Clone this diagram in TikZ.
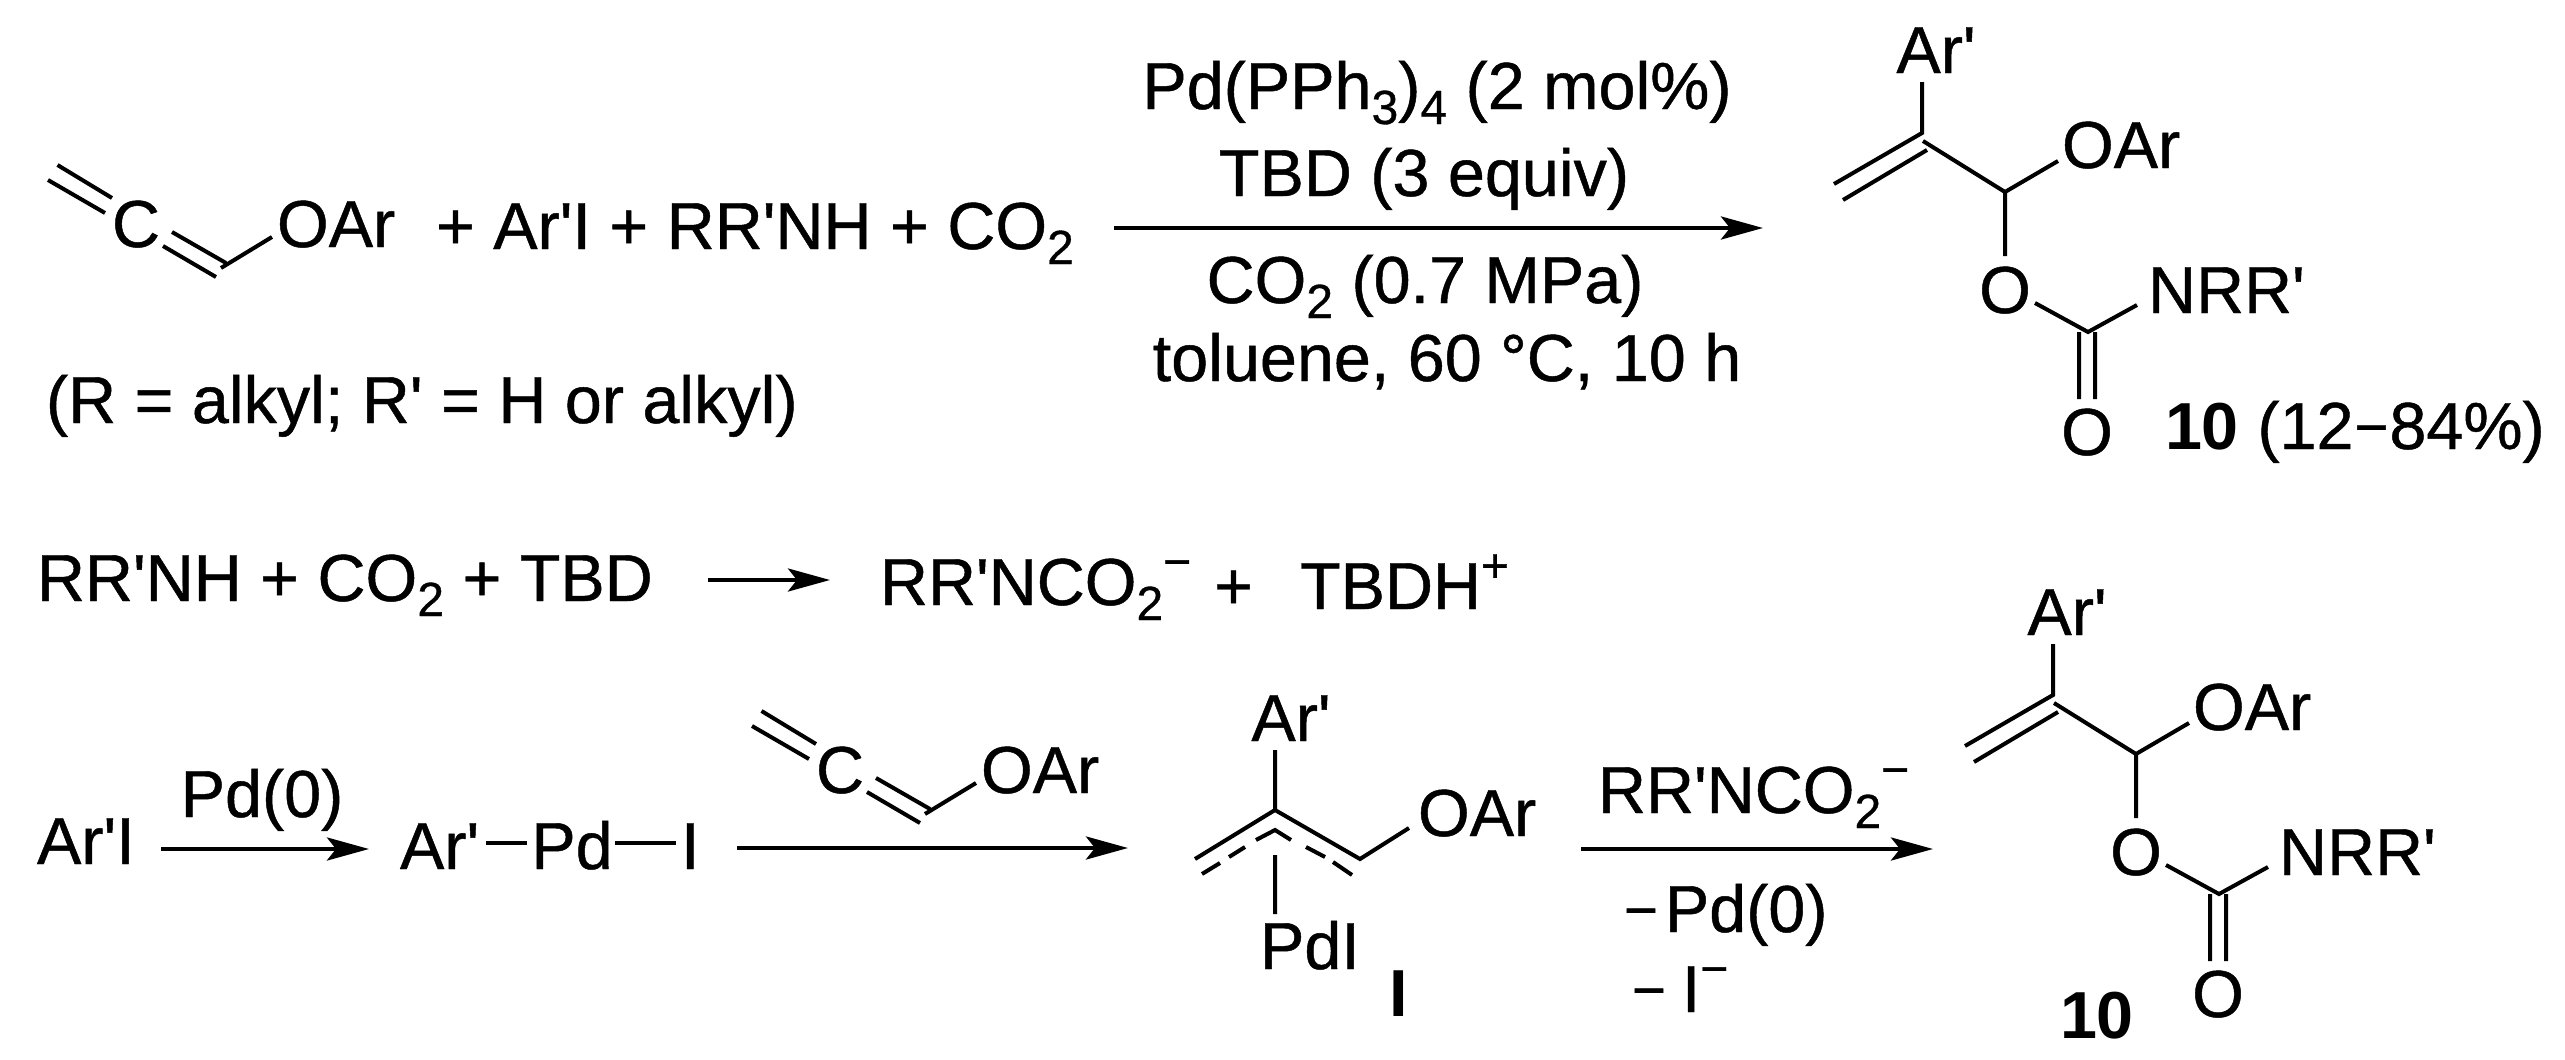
\documentclass[tikz,border=0pt]{standalone}
\usepackage{fontspec}
\setmainfont{Liberation Sans}[Ligatures=TeXOff,UprightFeatures={FakeBold=0.7}]
\usetikzlibrary{arrows.meta}
\newcommand{\subt}[1]{\raisebox{-15pt}{\fontsize{48}{50}\selectfont #1}}
\newcommand{\supt}[1]{\raisebox{27pt}{\fontsize{48}{50}\selectfont #1}}
\newcommand{\smin}{\raisebox{2pt}{\fontsize{58}{60}\selectfont −}}
\tikzset{
  txt/.style={inner sep=0pt,outer sep=0pt,anchor=base west,font=\fontsize{66.5}{70}\selectfont},
  ctxt/.style={txt,anchor=base},
  bond/.style={line width=4pt,line cap=butt},
  rxn/.style={line width=4.4pt,-{Stealth[length=42pt,width=23pt,inset=9pt]}},
  pics/allene/.style={code={
    \coordinate (-a1) at (57.5,165); \coordinate (-a2) at (112,198);
    \coordinate (-a3) at (48,180);   \coordinate (-a4) at (105,213);
    \coordinate (-b1) at (172,232);  \coordinate (-b2) at (226,263);
    \coordinate (-b3) at (163,246);  \coordinate (-b4) at (216,277);
    \coordinate (-c1) at (221,268);  \coordinate (-c2) at (272,237);
    \node[ctxt] (-C) at (136,247) {C};
    \node[txt] (-OAr) at (277,247) {OAr};
    \draw[bond] (-a1)--(-a2) (-a3)--(-a4) (-b1)--(-b2) (-b3)--(-b4) (-c1)--(-c2);
  }},
  pics/product/.style={code={
    \node[ctxt] (-Ar) at (1936,73) {Ar'};
    \node[txt] (-OAr) at (2062,168) {OAr};
    \node[ctxt] (-O) at (2005,313) {O};
    \node[txt] (-N) at (2148,313) {NRR'};
    \node[ctxt] (-O2) at (2087,455) {O};
    \coordinate (-p1) at (1922,82);  \coordinate (-p2) at (1922,133);
    \coordinate (-p3) at (1834,184); \coordinate (-p4) at (1927,150);
    \coordinate (-p5) at (1843,200); \coordinate (-p6) at (1923,141);
    \coordinate (-p7) at (2005,192); \coordinate (-p8) at (2058,161);
    \coordinate (-p9) at (2005,256); \coordinate (-p10) at (2035,303);
    \coordinate (-p11) at (2088,332); \coordinate (-p12) at (2137,305);
    \coordinate (-p13) at (2079,332); \coordinate (-p14) at (2079,399);
    \coordinate (-p15) at (2095,332); \coordinate (-p16) at (2095,399);
    \draw[bond] (-p1)--(-p2)--(-p3) (-p4)--(-p5) (-p6)--(-p7)--(-p8) (-p7)--(-p9)
      (-p10)--(-p11)--(-p12) (-p13)--(-p14) (-p15)--(-p16);
  }}
}
\begin{document}
\begin{tikzpicture}[x=1pt,y=-1pt]
\useasboundingbox (0,0) rectangle (2565,1060);
% top row
\pic (al1) at (0,0) {allene};
\node[txt] (reag) at (436,249) {+ Ar'I + RR'NH + CO\subt{2}};
\node[txt] (cond) at (46,423) {(R = alkyl; R' = H or alkyl)};
\node[ctxt] (c1) at (1437,109) {Pd(PPh\subt{3})\subt{4} (2 mol\%)};
\node[ctxt] (c2) at (1424,196) {TBD (3 equiv)};
\node[ctxt] (c3) at (1425,303) {CO\subt{2} (0.7 MPa)};
\node[ctxt] (c4) at (1447,381) {toluene, 60 °C, 10 h};
\coordinate (t1) at (1114,228); \coordinate (t2) at (1763,228);
\draw[rxn] (t1)--(t2);
\pic (pr1) at (0,0) {product};
\node[txt] (yield) at (2165,449) {\textbf{10} (12\kern1pt\smin\kern1pt 84\%)};
% middle row
\node[txt] (m1) at (37,601) {RR'NH + CO\subt{2} + TBD};
\coordinate (m2) at (708,580); \coordinate (m3) at (830,580);
\draw[rxn] (m2)--(m3);
\node[txt] (m4) at (880,605) {RR'NCO\subt{2}\supt{−}};
\node[txt] (m5) at (1214,609) {+};
\node[txt] (m6) at (1300,609) {TBDH\supt{+}};
% bottom row
\node[txt] (b1) at (37,864) {Ar'I};
\coordinate (b2) at (161,849); \coordinate (b3) at (369,849);
\draw[rxn] (b2)--(b3);
\node[ctxt] (b4) at (262,817) {Pd(0)};
\node[txt] (b5) at (400,869) {Ar'};
\node[ctxt] (b6) at (572,869) {Pd};
\node[txt] (b7) at (681,869) {I};
\coordinate (b8) at (486,843); \coordinate (b9) at (527,843);
\coordinate (b10) at (615,843); \coordinate (b11) at (676,843);
\draw[bond] (b8)--(b9) (b10)--(b11);
\coordinate (b12) at (737,848); \coordinate (b13) at (1128,848);
\draw[rxn] (b12)--(b13);
\pic (al2) at (704,546) {allene};
% intermediate I
\node[ctxt] (i1) at (1291,741) {Ar'};
\node[txt] (i2) at (1418,836) {OAr};
\node[txt] (i3) at (1260,969) {PdI};
\node[ctxt] (i4) at (1399,1016) {\textbf{I}};
\coordinate (v1) at (1275,750); \coordinate (v2) at (1275,810);
\coordinate (v3) at (1195,859); \coordinate (v4) at (1360,859);
\coordinate (v5) at (1409,828); \coordinate (v6) at (1275,855);
\coordinate (v7) at (1275,914);
\draw[bond] (v1)--(v2)--(v3) (v2)--(v4)--(v5) (v6)--(v7);
\coordinate (d1) at (1256,840); \coordinate (d2) at (1275,830); \coordinate (d3) at (1291,840);
\coordinate (d4) at (1245,847); \coordinate (d5) at (1229,857);
\coordinate (d6) at (1220,863); \coordinate (d7) at (1202,874);
\coordinate (d8) at (1306,847); \coordinate (d9) at (1325,857);
\coordinate (d10) at (1333,862); \coordinate (d11) at (1352,875);
\draw[bond] (d1)--(d2)--(d3) (d4)--(d5) (d6)--(d7) (d8)--(d9) (d10)--(d11);
% last arrow
\coordinate (e1) at (1581,849); \coordinate (e2) at (1933,849);
\draw[rxn] (e1)--(e2);
\node[txt] (e3) at (1598,813) {RR'NCO\subt{2}\supt{−}};
\node[txt] (e4) at (1624,932) {\smin\kern7pt Pd(0)};
\node[txt] (e5) at (1632,1012) {\smin\kern16pt I\supt{−}};
\pic (pr2) at (131,562) {product};
\node[txt] (e6) at (2060,1038) {\textbf{10}};
\end{tikzpicture}
\end{document}
